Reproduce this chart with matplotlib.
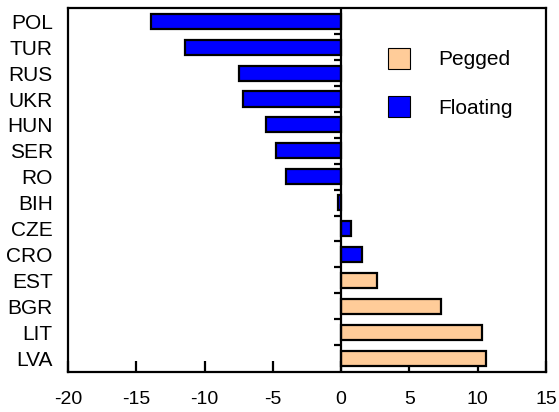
import numpy as np
import matplotlib.pyplot as plt
from matplotlib.patches import Patch

countries = ['POL', 'TUR', 'RUS', 'UKR', 'HUN', 'SER', 'RO', 'BIH',
             'CZE', 'CRO', 'EST', 'BGR', 'LIT', 'LVA']
values = [-13.9, -11.4, -7.5, -7.2, -5.5, -4.8, -4.0, -0.2,
          0.7, 1.5, 2.6, 7.3, 10.3, 10.6]
regime = ['Floating'] * 10 + ['Pegged'] * 4
colors = {'Pegged': '#FFCC99', 'Floating': '#0000FF'}
xticks = [-20, -15, -10, -5, 0, 5, 10, 15]

plt.rcParams['font.family'] = ['Liberation Sans', 'DejaVu Sans']

fig = plt.figure(figsize=(5.59, 4.12), dpi=100)
ax = fig.add_axes([0.1216, 0.097, 0.855, 0.884])

y = np.arange(len(countries))
ax.barh(y, values, height=0.58, color=[colors[r] for r in regime],
        edgecolor='black', linewidth=1.6, zorder=3)

ax.axvline(0, color='black', linewidth=1.6, zorder=4)
# small ticks on the zero line between categories
ax.hlines(y[:-1] + 0.5, -0.5, 0, color='black', linewidth=1.6, zorder=4)

ax.set_xlim(-20, 15)
ax.set_ylim(len(countries) - 0.46, -0.52)
ax.set_xticks(xticks)
ax.set_xticklabels([str(t) for t in xticks], fontsize=14)
ax.set_yticks(y)
ax.set_yticklabels(countries, fontsize=15)
ax.tick_params(axis='y', length=0, pad=11)
ax.tick_params(axis='x', direction='in', length=8, width=1.6, pad=14)
for s in ax.spines.values():
    s.set_linewidth(1.6)

handles = [Patch(facecolor=colors['Pegged'], edgecolor='black', linewidth=0.8),
           Patch(facecolor=colors['Floating'], edgecolor='black', linewidth=0.8)]
ax.legend(handles, ['Pegged', 'Floating'], loc='upper left',
          bbox_to_anchor=(0.669, 0.89), frameon=False, fontsize=15,
          borderpad=0, borderaxespad=0,
          handlelength=1.06, handleheight=1.15, labelspacing=1.3,
          handletextpad=1.35)

fig.savefig('out.png', dpi=100)
